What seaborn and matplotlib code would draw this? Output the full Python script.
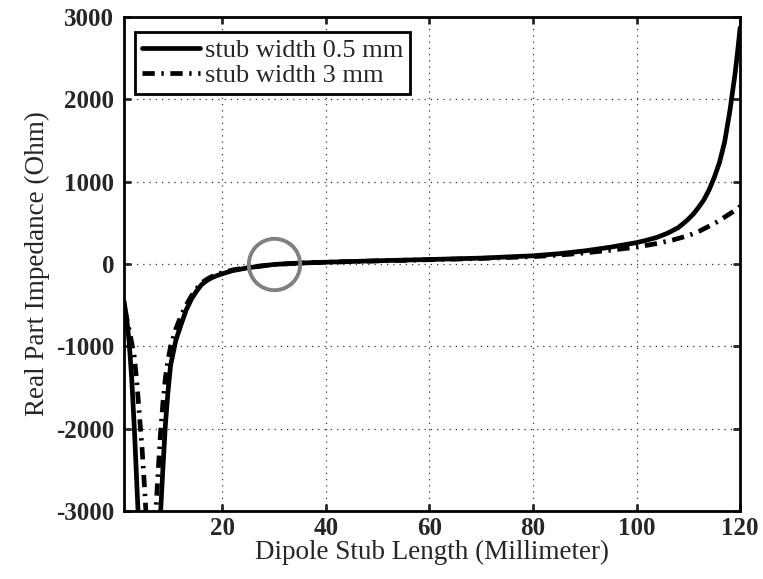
import pandas as pd
import matplotlib
matplotlib.use('Agg')
import matplotlib.pyplot as plt
import seaborn as sns

# dados
stub_len_05 = [1, 1.5, 2, 2.5, 3, 3.5, 4, 5, 6, 7, 7.5, 8, 8.5, 9, 9.5, 10, 11, 12, 13, 14,
               15, 16, 17, 18, 19, 20, 22, 25, 30, 35, 40, 50, 60, 70, 80, 85, 90, 95, 100,
               102, 104, 106, 108, 109, 110, 111, 112, 113, 114, 115, 116, 117, 118, 119,
               119.5, 120]
real_05 = [-450, -650, -950, -1400, -2000, -2700, -3400, -4500, -4800, -4200, -3600, -3100,
           -2500, -1950, -1550, -1230, -930, -740, -560, -430, -330, -250, -200, -165, -140,
           -118, -80, -45, -5, 12, 22, 40, 55, 72, 100, 125, 160, 205, 260, 290, 325, 375,
           440, 490, 545, 610, 690, 780, 900, 1050, 1230, 1480, 1850, 2300, 2570, 2870]

stub_len_3 = [1, 1.5, 2, 2.5, 3, 3.5, 4, 4.5, 5, 5.5, 6.3, 7, 7.2, 8, 8.5, 9, 9.5, 10, 11, 12,
              13, 14, 15, 16, 17, 18, 19, 20, 22, 25, 30, 35, 40, 50, 60, 70, 80, 85, 90,
              95, 100, 104, 107, 110, 112, 114, 115.5, 117, 118, 119, 120]
real_3 = [-550, -650, -800, -960, -1130, -1450, -1850, -2250, -2750, -3300, -3700, -3250,
          -2950, -2100, -1700, -1380, -1170, -1000, -790, -630, -500, -390, -300, -230, -185,
          -150, -125, -105, -72, -40, -5, 12, 22, 38, 52, 68, 90, 108, 135, 168, 205, 250,
          292, 345, 395, 460, 510, 570, 610, 650, 700]

labels = ['stub width 0.5 mm', 'stub width 3 mm']
x_ticks = [20, 40, 60, 80, 100, 120]
y_ticks = [-3000, -2000, -1000, 0, 1000, 2000, 3000]
marca = (30, 0)  # círculo cinza

sns.set_style('ticks')
plt.rcParams['font.family'] = ['Liberation Serif', 'DejaVu Serif']
plt.rcParams['axes.unicode_minus'] = False

fig = plt.figure(figsize=(7.63, 5.79), dpi=100)
ax = fig.add_axes([0.1625, 0.1175, 0.8075, 0.853])

df1 = pd.DataFrame({'x': stub_len_05, 'y': real_05})
df2 = pd.DataFrame({'x': stub_len_3, 'y': real_3})
sns.lineplot(data=df1, x='x', y='y', ax=ax, color='black', lw=3.4, label=labels[0], sort=False)
sns.lineplot(data=df2, x='x', y='y', ax=ax, color='black', lw=3.4, label=labels[1], sort=False)
ax.lines[1].set_dashes([2.6, 1.4, 0.5, 1.4])

ax.plot([marca[0]], [marca[1]], marker='o', markersize=37, markerfacecolor='none',
        markeredgecolor='#808080', markeredgewidth=2.8, linestyle='none')

ax.set_xlim(1, 120)
ax.set_ylim(-3000, 3000)
ax.set_xticks(x_ticks)
ax.set_yticks(y_ticks)
ax.grid(True, linestyle=(0, (1, 4)), color='#333333', lw=0.9)
ax.tick_params(direction='in', top=True, right=True, length=5, width=2, labelsize=18)
ax.tick_params(axis='y', pad=7)
ax.tick_params(axis='x', pad=4)
for t in ax.get_xticklabels() + ax.get_yticklabels():
    t.set_fontweight('bold')
for s in ax.spines.values():
    s.set_linewidth(2)
    s.set_color('black')

ax.set_xlabel('Dipole Stub Length (Millimeter)', fontsize=19.5, labelpad=0)
ax.set_ylabel('Real Part Impedance (Ohm)', fontsize=19.5, labelpad=4)

leg = ax.legend(loc='upper left', bbox_to_anchor=(0.005, 0.985), fontsize=19, frameon=True,
                fancybox=False, edgecolor='black', handlelength=2.2, handletextpad=0.2,
                borderpad=0.25, labelspacing=0.05, borderaxespad=0.3)
leg.get_frame().set_linewidth(2)
leg.get_frame().set_alpha(1)

plt.savefig('out.png', dpi=100)
